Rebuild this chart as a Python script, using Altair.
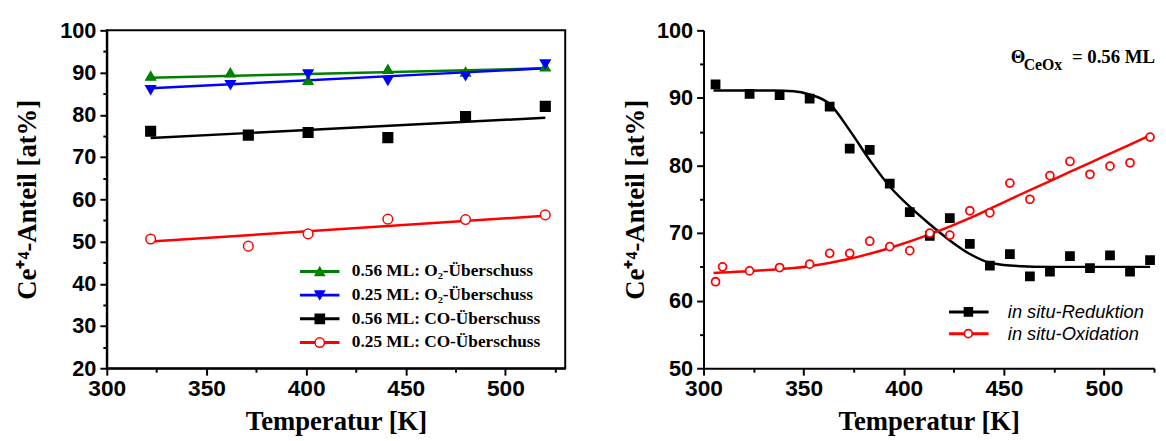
import altair as alt
import pandas as pd

# ---------------- data: left panel ----------------
left_series = ["0.56 ML: O₂-Überschuss", "0.25 ML: O₂-Überschuss",
               "0.56 ML: CO-Überschuss", "0.25 ML: CO-Überschuss"]
left_colors = ["#008000", "#0000ff", "#000000", "#ff0000"]
left_fills = ["#008000", "#0000ff", "#000000", "#ffffff"]
left_shapes = ["triangle-up", "triangle-down", "square", "circle"]

o2_056_T = [322, 362, 401, 441, 480, 520]
o2_056_v = [89.2, 90.0, 88.2, 90.8, 90.2, 91.4]
o2_025_T = [322, 362, 401, 441, 480, 520]
o2_025_v = [85.9, 87.1, 89.6, 88.1, 89.2, 92.0]
co_056_T = [322, 371, 401, 441, 480, 520]
co_056_v = [76.1, 75.2, 75.8, 74.6, 79.6, 82.0]
co_025_T = [322, 371, 401, 441, 480, 520]
co_025_v = [50.6, 48.9, 51.8, 55.3, 55.2, 56.3]

fit_T = [322, 520]
fit_o2_056 = [88.8, 91.0]
fit_o2_025 = [86.3, 91.0]
fit_co_056 = [74.5, 79.3]
fit_co_025 = [50.0, 56.1]

left_x_ticks = [300, 325, 350, 375, 400, 425, 450, 475, 500, 525]
left_y_ticks = [20, 25, 30, 35, 40, 45, 50, 55, 60, 65, 70, 75, 80, 85, 90, 95, 100]

# ---------------- data: right panel ----------------
right_series = ["in situ-Reduktion", "in situ-Oxidation"]
right_colors = ["#000000", "#ff0000"]
right_fills = ["#000000", "#ffffff"]
right_shapes = ["square", "circle"]

red_T = [306, 309.5, 323, 338, 353, 363, 373, 383, 393, 403, 413, 423, 433, 443,
         453, 463, 473, 483, 493, 503, 513, 523]
red_v = [62.8, 65.0, 64.4, 64.9, 65.4, 67.0, 67.0, 68.8, 68.0, 67.4, 70.0, 69.7,
         73.3, 73.0, 77.4, 75.0, 78.5, 80.6, 78.7, 79.9, 80.4, 84.2]
black_T = [306, 323, 338, 353, 363, 373, 383, 393, 403, 413, 423, 433, 443, 453,
           463, 473, 483, 493, 503, 513, 523]
black_v = [92.0, 90.6, 90.4, 89.9, 88.7, 82.5, 82.3, 77.3, 73.1, 69.6, 72.2, 68.4,
           65.2, 66.9, 63.6, 64.3, 66.6, 64.8, 66.7, 64.3, 66.0]

black_fit_T = [305, 320, 335, 345, 353, 363, 373, 383, 393, 403, 413, 423, 433,
               443, 453, 473, 500, 523]
black_fit_v = [91.1, 91.1, 91.1, 91.0, 90.5, 89.1, 85.2, 80.8, 76.9, 73.9, 71.3,
               68.9, 66.9, 65.6, 65.2, 65.0, 65.0, 65.0]
red_fit_T = [305, 330, 353, 373, 393, 413, 433, 453, 473, 493, 513, 524]
red_fit_v = [64.1, 64.5, 65.1, 66.2, 67.8, 69.8, 72.2, 75.0, 77.7, 80.4, 83.1, 84.6]

right_x_ticks = [300, 325, 350, 375, 400, 425, 450, 475, 500, 525]
right_y_ticks = [50, 55, 60, 65, 70, 75, 80, 85, 90, 95, 100]

# ---------------- tables ----------------
left_pts = pd.DataFrame({
    "T": o2_056_T + o2_025_T + co_056_T + co_025_T,
    "v": o2_056_v + o2_025_v + co_056_v + co_025_v,
    "series": [left_series[0]] * 6 + [left_series[1]] * 6
              + [left_series[2]] * 6 + [left_series[3]] * 6,
})
left_fit = pd.DataFrame({
    "T": fit_T * 4,
    "v": fit_o2_056 + fit_o2_025 + fit_co_056 + fit_co_025,
    "fit": [left_series[0]] * 2 + [left_series[1]] * 2
           + [left_series[2]] * 2 + [left_series[3]] * 2,
})
right_pts = pd.DataFrame({
    "T": black_T + red_T,
    "v": black_v + red_v,
    "series": [right_series[0]] * len(black_T) + [right_series[1]] * len(red_T),
})
right_fit = pd.DataFrame({
    "T": black_fit_T + red_fit_T,
    "v": black_fit_v + red_fit_v,
    "fit": [right_series[0]] * len(black_fit_T) + [right_series[1]] * len(red_fit_T),
})

SANS = "Liberation Sans, Arial, sans-serif"
SERIF = "Liberation Serif, Times New Roman, serif"
Y_TITLE = "Ce⁺⁴-Anteil [at%]"
X_TITLE = "Temperatur [K]"


def x_axis(ticks):
    return alt.Axis(
        values=ticks, labelExpr="datum.value % 50 === 0 ? datum.label : ''",
        title=X_TITLE, grid=False, domainColor="black", domainWidth=2,
        tickColor="black", tickWidth=2,
        tickSize={"condition": {"test": "datum.value % 50 === 0", "value": 7}, "value": 4},
        labelFont=SANS, labelFontWeight="bold", labelFontSize=23, labelColor="black",
        labelPadding=3, labelFlush=False, labelOverlap=False,
        titleFont=SERIF, titleFontWeight="bold", titleFontSize=27, titleColor="black",
        titlePadding=8,
    )


def y_axis(ticks, title_pad):
    return alt.Axis(
        values=ticks, labelExpr="datum.value % 10 === 0 ? datum.label : ''",
        title=Y_TITLE, grid=False, domainColor="black", domainWidth=2,
        tickColor="black", tickWidth=2,
        tickSize={"condition": {"test": "datum.value % 10 === 0", "value": 7}, "value": 4},
        labelFont=SANS, labelFontWeight="bold", labelFontSize=22, labelColor="black",
        labelPadding=4, labelFlush=False, labelOverlap=False,
        titleFont=SERIF, titleFontWeight="bold", titleFontSize=27, titleColor="black",
        titlePadding=title_pad,
    )


# ---------------- left panel ----------------
lx = alt.X("T:Q", scale=alt.Scale(domain=[300, 530], nice=False, zero=False),
           axis=x_axis(left_x_ticks))
ly = alt.Y("v:Q", scale=alt.Scale(domain=[20, 100], nice=False, zero=False),
           axis=y_axis(left_y_ticks, 18))

left_line_legend = alt.Legend(
    orient="none", legendX=194, legendY=232, title=None, padding=0,
    symbolType="stroke", symbolSize=1600, symbolStrokeWidth=3,
    labelFont=SERIF, labelFontWeight="bold", labelFontSize=17.5, labelColor="black",
    labelOffset=11, clipHeight=24, rowPadding=0, labelLimit=400,
)
left_pt_legend = alt.Legend(
    orient="none", legendX=210, legendY=232, title=None, padding=0,
    symbolSize=90, symbolStrokeWidth=1.5, labelExpr="''",
    clipHeight=24, rowPadding=0,
)

left_lines = alt.Chart(left_fit).mark_line(strokeWidth=2.5).encode(
    x=lx, y=ly,
    color=alt.Color("fit:N", sort=None,
                    scale=alt.Scale(range=left_colors), legend=left_line_legend),
)
left_points = alt.Chart(left_pts).mark_point(size=95, strokeWidth=1.5, opacity=1).encode(
    x=lx, y=ly,
    shape=alt.Shape("series:N",
                    scale=alt.Scale(domain=left_series, range=left_shapes),
                    legend=left_pt_legend),
    fill=alt.Fill("series:N",
                  scale=alt.Scale(domain=left_series, range=left_fills),
                  legend=left_pt_legend),
    stroke=alt.Stroke("series:N",
                      scale=alt.Scale(domain=left_series, range=left_colors),
                      legend=left_pt_legend),
)
left = alt.layer(left_lines, left_points).properties(
    width=464, height=342,
    view=alt.ViewBackground(stroke="black", strokeWidth=2),
)

# ---------------- right panel ----------------
rx = alt.X("T:Q", scale=alt.Scale(domain=[300, 525], nice=False, zero=False),
           axis=x_axis(right_x_ticks))
ry = alt.Y("v:Q", scale=alt.Scale(domain=[50, 100], nice=False, zero=False),
           axis=y_axis(right_y_ticks, 7))

right_line_legend = alt.Legend(
    orient="none", legendX=247, legendY=274, title=None, padding=0,
    symbolType="stroke", symbolSize=1600, symbolStrokeWidth=3,
    labelFont=SANS, labelFontStyle="italic", labelFontSize=18.5, labelColor="black",
    labelOffset=18, clipHeight=22, rowPadding=0, labelLimit=400,
)
right_pt_legend = alt.Legend(
    orient="none", legendX=263, legendY=274, title=None, padding=0,
    symbolSize=65, symbolStrokeWidth=1.8, labelExpr="''",
    clipHeight=22, rowPadding=0,
)

right_lines = alt.Chart(right_fit).mark_line(strokeWidth=2.5, interpolate="monotone").encode(
    x=rx, y=ry,
    color=alt.Color("fit:N", sort=None,
                    scale=alt.Scale(range=right_colors), legend=right_line_legend),
)
right_points = alt.Chart(right_pts).mark_point(size=65, strokeWidth=1.8, opacity=1).encode(
    x=rx, y=ry,
    shape=alt.Shape("series:N",
                    scale=alt.Scale(domain=right_series, range=right_shapes),
                    legend=right_pt_legend),
    fill=alt.Fill("series:N",
                  scale=alt.Scale(domain=right_series, range=right_fills),
                  legend=right_pt_legend),
    stroke=alt.Stroke("series:N",
                      scale=alt.Scale(domain=right_series, range=right_colors),
                      legend=right_pt_legend),
)

ann_theta = alt.Chart(pd.DataFrame({"t": ["Θ"]})).mark_text(
    font=SERIF, fontWeight="bold", fontSize=19, align="left", baseline="middle",
    color="black").encode(text="t:N", x=alt.value(311), y=alt.value(27))
ann_sub = alt.Chart(pd.DataFrame({"t": ["CeOx"]})).mark_text(
    font=SERIF, fontWeight="bold", fontSize=16, align="left", baseline="middle",
    color="black").encode(text="t:N", x=alt.value(324), y=alt.value(35))
ann_val = alt.Chart(pd.DataFrame({"t": ["= 0.56 ML"]})).mark_text(
    font=SERIF, fontWeight="bold", fontSize=19, align="right", baseline="middle",
    color="black").encode(text="t:N", x=alt.value(457), y=alt.value(27))

right = alt.layer(right_lines, right_points, ann_theta, ann_sub, ann_val).properties(
    width=456, height=342,
)

chart = alt.hconcat(left, right, spacing=56).resolve_scale(
    color="independent", fill="independent", stroke="independent", shape="independent",
).resolve_legend(
    color="independent", fill="independent", stroke="independent", shape="independent",
).properties(
    padding={"left": 5, "top": 8, "right": 0, "bottom": 0},
).configure_view(strokeWidth=0)

chart.save("out.html", embed_options={"renderer": "svg", "actions": False})
